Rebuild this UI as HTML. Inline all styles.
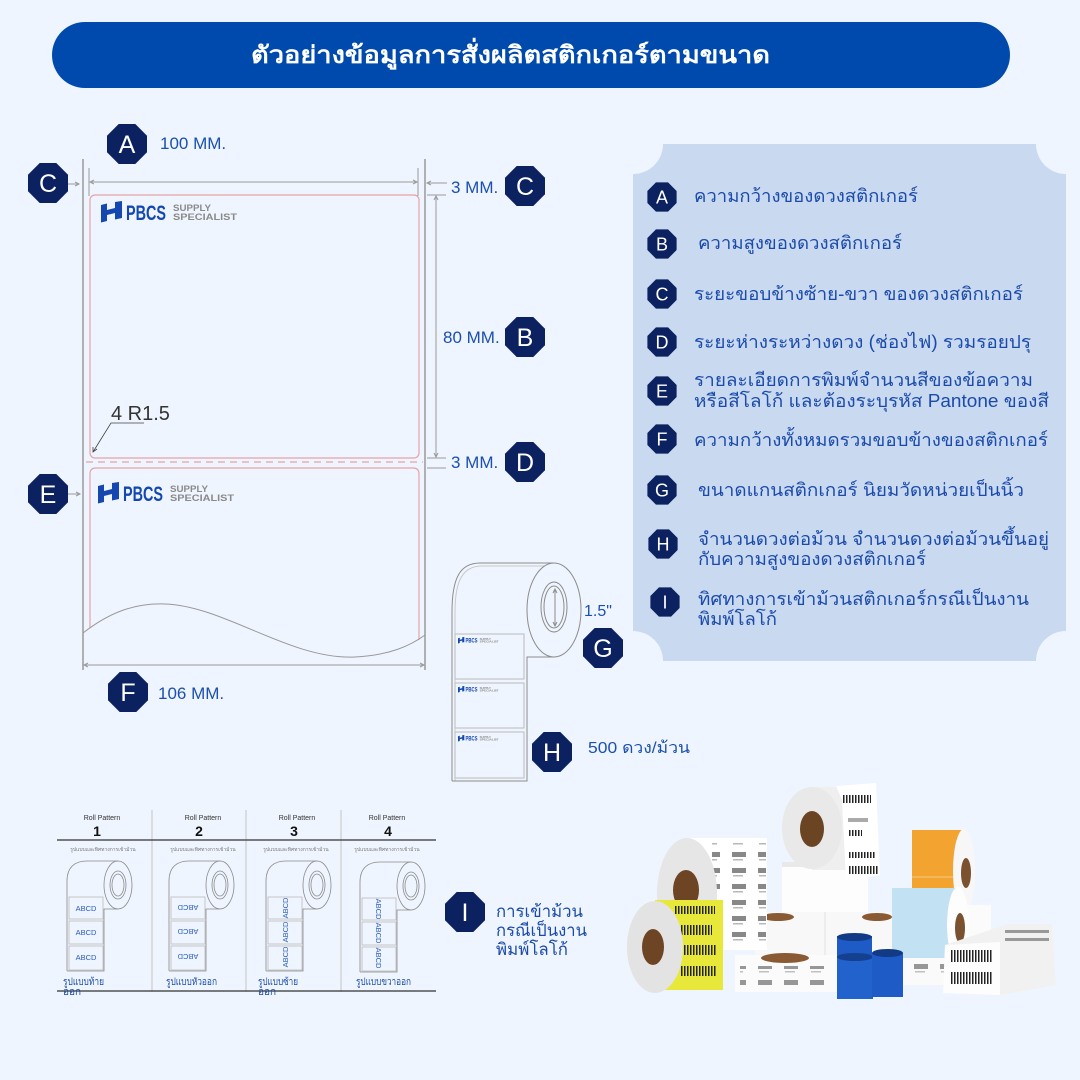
<!DOCTYPE html>
<html><head><meta charset="utf-8">
<style>
html,body{margin:0;padding:0;}
body{width:1080px;height:1080px;background:#EEF5FE;overflow:hidden;}
svg{display:block;}
text{font-family:"Liberation Sans","DejaVu Sans",sans-serif;}
</style></head><body>
<svg width="1080" height="1080" viewBox="0 0 1080 1080" xmlns="http://www.w3.org/2000/svg">
<defs>
  <polygon id="oct" points="-8.3,-20 8.3,-20 20,-8.3 20,8.3 8.3,20 -8.3,20 -20,8.3 -20,-8.3" fill="#0B2160"/>
  <g id="logo">
    <polygon points="0,4 6,2.5 6,9 14,7 14,1 21,0 21,17 14,18.5 14,12 6,14 6,20 0,21.5" fill="#1447B0"/>
    <text x="25" y="19" font-size="21" font-weight="bold" fill="#1447B0" textLength="40" lengthAdjust="spacingAndGlyphs">PBCS</text>
    <text x="72" y="10" font-size="9.5" font-weight="bold" fill="#8a8a8a" textLength="38" lengthAdjust="spacingAndGlyphs">SUPPLY</text>
    <text x="72" y="19" font-size="9.5" font-weight="bold" fill="#8a8a8a" textLength="64" lengthAdjust="spacingAndGlyphs">SPECIALIST</text>
  </g>
  <g id="rp" fill="none" stroke="#8a8a8a" stroke-width="0.8">
    <path d="M0 110 L0 20 C0 6 8 0 20 0 L51 0"/>
    <ellipse cx="51" cy="24" rx="14" ry="24" fill="#EEF5FE"/>
    <ellipse cx="51" cy="24" rx="8" ry="14"/>
    <ellipse cx="51" cy="24" rx="6" ry="11"/>
    <path d="M51 48 L37 48 L37 110 L0 110"/>
    <rect x="2" y="36" width="34" height="22" stroke="#bbb"/>
    <rect x="2" y="60" width="34" height="23" stroke="#bbb"/>
    <rect x="2" y="85" width="34" height="24" stroke="#bbb"/>
  </g>
  <pattern id="bc" width="3" height="10" patternUnits="userSpaceOnUse"><rect width="1.5" height="10" fill="#222"/></pattern>
  <pattern id="lbl" width="26" height="16" patternUnits="userSpaceOnUse"><rect x="4" y="4" width="14" height="5" fill="#555"/><rect x="5" y="11" width="10" height="1.5" fill="#999"/></pattern>
</defs>

<!-- Header -->
<rect x="52" y="22" width="958" height="66" rx="33" fill="#004AAD"/>
<text x="251" y="63" font-size="24" font-weight="bold" fill="#fff" textLength="519" lengthAdjust="spacingAndGlyphs">ตัวอย่างข้อมูลการสั่งผลิตสติกเกอร์ตามขนาด</text>

<!-- Left diagram -->
<g stroke="#9a9a9a" fill="none">
  <line x1="83" y1="159" x2="83" y2="670" stroke-width="1.5"/>
  <line x1="425" y1="159" x2="425" y2="670" stroke-width="1.5"/>
  <line x1="89" y1="168" x2="89" y2="196"/>
  <line x1="418" y1="168" x2="418" y2="196"/>
  <line x1="90" y1="182" x2="417" y2="182"/>
  <path d="M94 180 L90 182 L94 184 M413 180 L417 182 L413 184"/>
  <line x1="68" y1="184" x2="79" y2="184"/>
  <path d="M75 182 L79 184 L75 186"/>
  <line x1="427" y1="183" x2="447" y2="183"/>
  <path d="M431 181 L427 183 L431 185"/>
  <line x1="427" y1="195" x2="446" y2="195"/>
  <line x1="436" y1="196" x2="436" y2="457"/>
  <path d="M434 200 L436 196 L438 200 M434 453 L436 457 L438 453"/>
  <line x1="427" y1="458" x2="446" y2="458"/>
  <line x1="427" y1="468" x2="446" y2="468"/>
  <line x1="68" y1="494" x2="80" y2="494"/>
  <path d="M76 492 L80 494 L76 496"/>
  <line x1="84" y1="665" x2="424" y2="665"/>
  <path d="M88 663 L84 665 L88 667 M420 663 L424 665 L420 667"/>
</g>
<rect x="90" y="195" width="329" height="263" rx="5" fill="none" stroke="#E6A3A8" stroke-width="1.2"/>
<line x1="86" y1="462" x2="423" y2="462" stroke="#E6A3A8" stroke-width="1.2" stroke-dasharray="7 5"/>
<path d="M90 628 L90 474 Q90 468 96 468 L413 468 Q419 468 419 474 L419 640" fill="none" stroke="#E6A3A8" stroke-width="1.2"/>
<path d="M83 633 C110 612 135 603 165 604 C225 606 290 660 355 657 C390 655 410 646 425 635" fill="none" stroke="#999" stroke-width="1"/>
<use href="#logo" x="101" y="201"/>
<use href="#logo" x="98" y="482"/>

<!-- 4 R1.5 -->
<text x="111" y="420" font-size="20" fill="#333">4 R1.5</text>
<path d="M144 423 L111 423 L93 452" fill="none" stroke="#444" stroke-width="0.8"/>
<path d="M93 447 L93 452 L97 449" fill="none" stroke="#444" stroke-width="0.8"/>

<!-- dimension labels -->
<g font-size="17" fill="#1B4FB0">
  <text x="160" y="149">100 MM.</text>
  <text x="451" y="193">3 MM.</text>
  <text x="443" y="343">80 MM.</text>
  <text x="451" y="468">3 MM.</text>
  <text x="158" y="699">106 MM.</text>
</g>

<!-- badges left -->
<use href="#oct" x="127" y="144"/>
<use href="#oct" x="48" y="183"/>
<use href="#oct" x="525" y="186"/>
<use href="#oct" x="525" y="337"/>
<use href="#oct" x="525" y="462"/>
<use href="#oct" x="48" y="494"/>
<use href="#oct" x="128" y="692"/>
<use href="#oct" x="603" y="648"/>
<use href="#oct" x="552" y="752"/>
<use href="#oct" x="465" y="912"/>
<g font-size="25" fill="#fff" text-anchor="middle">
  <text x="127" y="153">A</text>
  <text x="48" y="192">C</text>
  <text x="525" y="195">C</text>
  <text x="525" y="346">B</text>
  <text x="525" y="471">D</text>
  <text x="48" y="503">E</text>
  <text x="128" y="701">F</text>
  <text x="603" y="657">G</text>
  <text x="552" y="761">H</text>
  <text x="465" y="921">I</text>
</g>

<!-- Roll drawing -->
<g fill="none" stroke="#8c8c8c" stroke-width="1">
  <path d="M452 781 L452 612 C452 578 460 563 480 563 L554 563"/>
  <path d="M455 781 L455 612 C455 580 463 566 482 566 L552 566" stroke="#c8c8c8"/>
  <ellipse cx="554" cy="610" rx="27" ry="47" fill="#EEF5FE"/>
  <ellipse cx="554" cy="607" rx="13" ry="25"/>
  <ellipse cx="554" cy="607" rx="10" ry="21"/>
  <path d="M554 657 L527 657 L527 781 L452 781"/>
  <line x1="555" y1="589" x2="555" y2="626"/>
  <path d="M553 593 L555 589 L557 593 M553 622 L555 626 L557 622"/>
  <rect x="455" y="634" width="69" height="45" stroke="#bbb"/>
  <rect x="455" y="683" width="69" height="45" stroke="#bbb"/>
  <rect x="455" y="732" width="69" height="46" stroke="#bbb"/>
</g>
<g transform="translate(458,637) scale(0.3)"><use href="#logo"/></g>
<g transform="translate(458,686) scale(0.3)"><use href="#logo"/></g>
<g transform="translate(458,735) scale(0.3)"><use href="#logo"/></g>
<text x="584" y="616" font-size="16" fill="#1B4FB0">1.5"</text>
<text x="588" y="753" font-size="16" fill="#1B4FB0" textLength="102" lengthAdjust="spacingAndGlyphs">500 ดวง/ม้วน</text>

<!-- Right panel -->
<path d="M663 144 L1036 144 A30 30 0 0 0 1066 174 L1066 631 A30 30 0 0 0 1036 661 L663 661 A30 30 0 0 0 633 631 L633 174 A30 30 0 0 0 663 144 Z" fill="#C9DAF0"/>
<g>
  <use href="#oct" transform="translate(662,197) scale(0.73)"/>
  <use href="#oct" transform="translate(662,244) scale(0.73)"/>
  <use href="#oct" transform="translate(662,294) scale(0.73)"/>
  <use href="#oct" transform="translate(662,342) scale(0.73)"/>
  <use href="#oct" transform="translate(662,391) scale(0.73)"/>
  <use href="#oct" transform="translate(662,439) scale(0.73)"/>
  <use href="#oct" transform="translate(662,490) scale(0.73)"/>
  <use href="#oct" transform="translate(663,544) scale(0.73)"/>
  <use href="#oct" transform="translate(665,602) scale(0.73)"/>
</g>
<g font-size="18" fill="#fff" text-anchor="middle">
  <text x="662" y="203.5">A</text>
  <text x="662" y="250.5">B</text>
  <text x="662" y="300.5">C</text>
  <text x="662" y="348.5">D</text>
  <text x="662" y="397.5">E</text>
  <text x="662" y="445.5">F</text>
  <text x="662" y="496.5">G</text>
  <text x="663" y="550.5">H</text>
  <text x="665" y="608.5">I</text>
</g>
<g font-size="18" fill="#1B4AAA">
  <text x="694" y="202" textLength="224" lengthAdjust="spacingAndGlyphs">ความกว้างของดวงสติกเกอร์</text>
  <text x="698" y="249" textLength="204" lengthAdjust="spacingAndGlyphs">ความสูงของดวงสติกเกอร์</text>
  <text x="694" y="300" textLength="329" lengthAdjust="spacingAndGlyphs">ระยะขอบข้างซ้าย-ขวา ของดวงสติกเกอร์</text>
  <text x="694" y="348" textLength="337" lengthAdjust="spacingAndGlyphs">ระยะห่างระหว่างดวง (ช่องไฟ) รวมรอยปรุ</text>
  <text x="694" y="386" textLength="339" lengthAdjust="spacingAndGlyphs">รายละเอียดการพิมพ์จำนวนสีของข้อความ</text>
  <text x="694" y="407" textLength="355" lengthAdjust="spacingAndGlyphs">หรือสีโลโก้ และต้องระบุรหัส Pantone ของสี</text>
  <text x="694" y="446" textLength="354" lengthAdjust="spacingAndGlyphs">ความกว้างทั้งหมดรวมขอบข้างของสติกเกอร์</text>
  <text x="698" y="496" textLength="326" lengthAdjust="spacingAndGlyphs">ขนาดแกนสติกเกอร์ นิยมวัดหน่วยเป็นนิ้ว</text>
  <text x="698" y="545" textLength="351" lengthAdjust="spacingAndGlyphs">จำนวนดวงต่อม้วน จำนวนดวงต่อม้วนขึ้นอยู่</text>
  <text x="698" y="565" textLength="228" lengthAdjust="spacingAndGlyphs">กับความสูงของดวงสติกเกอร์</text>
  <text x="698" y="605" textLength="331" lengthAdjust="spacingAndGlyphs">ทิศทางการเข้าม้วนสติกเกอร์กรณีเป็นงาน</text>
  <text x="698" y="625" textLength="79" lengthAdjust="spacingAndGlyphs">พิมพ์โลโก้</text>
</g>

<!-- Roll patterns -->
<g stroke="#c4c4c4" stroke-width="1">
  <line x1="152" y1="810" x2="152" y2="992"/>
  <line x1="246" y1="810" x2="246" y2="992"/>
  <line x1="341" y1="810" x2="341" y2="992"/>
</g>
<line x1="57" y1="840" x2="436" y2="840" stroke="#333" stroke-width="1.2"/>
<line x1="57" y1="991" x2="436" y2="991" stroke="#333" stroke-width="1.2"/>
<g font-size="7" fill="#333" text-anchor="middle">
  <text x="102" y="820">Roll Pattern</text>
  <text x="203" y="820">Roll Pattern</text>
  <text x="297" y="820">Roll Pattern</text>
  <text x="387" y="820">Roll Pattern</text>
</g>
<g font-size="14" font-weight="bold" fill="#111" text-anchor="middle">
  <text x="97" y="836">1</text>
  <text x="199" y="836">2</text>
  <text x="294" y="836">3</text>
  <text x="388" y="836">4</text>
</g>
<g font-size="5" fill="#777" text-anchor="middle">
  <text x="103" y="851">รูปแบบและทิศทางการเข้าม้วน</text>
  <text x="203" y="851">รูปแบบและทิศทางการเข้าม้วน</text>
  <text x="296" y="851">รูปแบบและทิศทางการเข้าม้วน</text>
  <text x="387" y="851">รูปแบบและทิศทางการเข้าม้วน</text>
</g>
<use href="#rp" x="67" y="861"/>
<use href="#rp" x="169" y="861"/>
<use href="#rp" x="266" y="861"/>
<use href="#rp" x="360" y="862"/>
<g font-size="7.5" fill="#2A5BC0" text-anchor="middle">
  <text x="86" y="911">ABCD</text>
  <text x="86" y="935">ABCD</text>
  <text x="86" y="960">ABCD</text>
  <text transform="translate(188,905) rotate(180)">ABCD</text>
  <text transform="translate(188,929) rotate(180)">ABCD</text>
  <text transform="translate(188,954) rotate(180)">ABCD</text>
  <text transform="translate(288,908) rotate(-90)">ABCD</text>
  <text transform="translate(288,932) rotate(-90)">ABCD</text>
  <text transform="translate(288,957) rotate(-90)">ABCD</text>
  <text transform="translate(376,909) rotate(90)">ABCD</text>
  <text transform="translate(376,933) rotate(90)">ABCD</text>
  <text transform="translate(376,958) rotate(90)">ABCD</text>
</g>
<g font-size="10" fill="#1B4AAA">
  <text x="63" y="985" textLength="41" lengthAdjust="spacingAndGlyphs">รูปแบบท้าย</text>
  <text x="63" y="995">ออก</text>
  <text x="166" y="985" textLength="51" lengthAdjust="spacingAndGlyphs">รูปแบบหัวออก</text>
  <text x="258" y="985" textLength="40" lengthAdjust="spacingAndGlyphs">รูปแบบซ้าย</text>
  <text x="258" y="995">ออก</text>
  <text x="356" y="985" textLength="55" lengthAdjust="spacingAndGlyphs">รูปแบบขวาออก</text>
</g>
<g font-size="17" fill="#1B4AAA">
  <text x="496" y="917" textLength="87" lengthAdjust="spacingAndGlyphs">การเข้าม้วน</text>
  <text x="496" y="936" textLength="91" lengthAdjust="spacingAndGlyphs">กรณีเป็นงาน</text>
  <text x="496" y="955" textLength="72" lengthAdjust="spacingAndGlyphs">พิมพ์โลโก้</text>
</g>

<!-- Photo of rolls -->
<g>
  <!-- orange roll -->
  <rect x="912" y="830" width="52" height="83" fill="#F3A330"/>
  <line x1="912" y1="877" x2="962" y2="877" stroke="#f9c884" stroke-width="1"/>
  <ellipse cx="964" cy="871" rx="11" ry="42" fill="#f7f7f7"/>
  <ellipse cx="966" cy="873" rx="5" ry="15" fill="#7a5230"/>
  <!-- white roll behind right -->
  <rect x="955" y="905" width="36" height="55" fill="#fbfbfb"/>
  <!-- middle white block -->
  <rect x="782" y="862" width="86" height="62" fill="#fdfdfd"/>
  <rect x="782" y="862" width="86" height="5" fill="#e9e9e9"/>
  <!-- lower white rolls -->
  <rect x="755" y="912" width="140" height="50" fill="#f8f8f8"/>
  <ellipse cx="778" cy="917" rx="16" ry="4" fill="#8a5a34"/>
  <ellipse cx="877" cy="917" rx="15" ry="4" fill="#8a5a34"/>
  <line x1="825" y1="912" x2="825" y2="962" stroke="#e2e2e2"/>
  <!-- top roll -->
  <rect x="812" y="787" width="40" height="83" fill="#efefef"/>
  <polygon points="836,786 876,783 880,875 846,881 842,800" fill="#ffffff"/>
  <rect x="843" y="795" width="28" height="8" fill="url(#bc)"/>
  <rect x="848" y="818" width="20" height="4" fill="#aaa"/>
  <rect x="848" y="830" width="14" height="6" fill="url(#bc)"/>
  <rect x="848" y="852" width="28" height="6" fill="url(#bc)"/>
  <rect x="848" y="866" width="30" height="8" fill="url(#bc)"/>
  <ellipse cx="812" cy="828" rx="30" ry="41" fill="#e9e9e9"/>
  <ellipse cx="812" cy="829" rx="12" ry="18" fill="#6b4424"/>
  <!-- back-left roll -->
  <rect x="687" y="838" width="80" height="112" fill="#ffffff"/>
  <rect x="712" y="842" width="54" height="105" fill="url(#lbl)" opacity="0.7"/>
  <ellipse cx="687" cy="894" rx="30" ry="56" fill="#e6e6e6"/>
  <ellipse cx="686" cy="890" rx="13" ry="20" fill="#6e4524"/>
  <!-- light blue roll -->
  <rect x="880" y="955" width="80" height="30" fill="#fafafa"/>
  <rect x="884" y="960" width="70" height="18" fill="url(#lbl)" opacity="0.6"/>
  <rect x="892" y="888" width="66" height="70" fill="#C2E1F2"/>
  <ellipse cx="958" cy="925" rx="11" ry="38" fill="#fdfdfd"/>
  <ellipse cx="960" cy="928" rx="5" ry="15" fill="#7a5230"/>
  <!-- barcode stack -->
  <polygon points="1008,924 1052,924 1056,985 1000,995 943,993 945,945" fill="#f1f1f1"/>
  <polygon points="945,945 1000,942 1000,995 943,993" fill="#fdfdfd"/>
  <rect x="950" y="950" width="42" height="12" fill="url(#bc)"/>
  <rect x="950" y="972" width="42" height="12" fill="url(#bc)"/>
  <rect x="1005" y="930" width="44" height="3" fill="#999"/>
  <rect x="1005" y="938" width="44" height="3" fill="#999"/>
  <!-- flat bottom roll -->
  <rect x="735" y="955" width="103" height="37" fill="#fbfbfb"/>
  <ellipse cx="785" cy="958" rx="24" ry="5" fill="#8a5a34"/>
  <rect x="740" y="966" width="95" height="20" fill="url(#lbl)" opacity="0.6"/>
  <!-- yellow roll -->
  <rect x="655" y="900" width="68" height="90" fill="#E8E83A"/>
  <rect x="675" y="906" width="40" height="8" fill="url(#bc)"/>
  <rect x="680" y="925" width="32" height="10" fill="url(#bc)"/>
  <rect x="680" y="945" width="36" height="10" fill="url(#bc)"/>
  <rect x="680" y="966" width="36" height="10" fill="url(#bc)"/>
  <ellipse cx="655" cy="947" rx="28" ry="46" fill="#e3e3e3"/>
  <ellipse cx="653" cy="947" rx="11" ry="18" fill="#6e4524"/>
  <!-- ribbons -->
  <rect x="837" y="936" width="35" height="25" fill="#1E5BC6"/>
  <ellipse cx="854.5" cy="937" rx="17.5" ry="4" fill="#123a85"/>
  <rect x="837" y="957" width="36" height="42" fill="#2262CC"/>
  <ellipse cx="855" cy="957" rx="18" ry="4" fill="#14408f"/>
  <rect x="872" y="953" width="31" height="44" fill="#1E5BC6"/>
  <ellipse cx="887.5" cy="953" rx="15.5" ry="4" fill="#123a85"/>
</g>
</svg>
</body></html>
